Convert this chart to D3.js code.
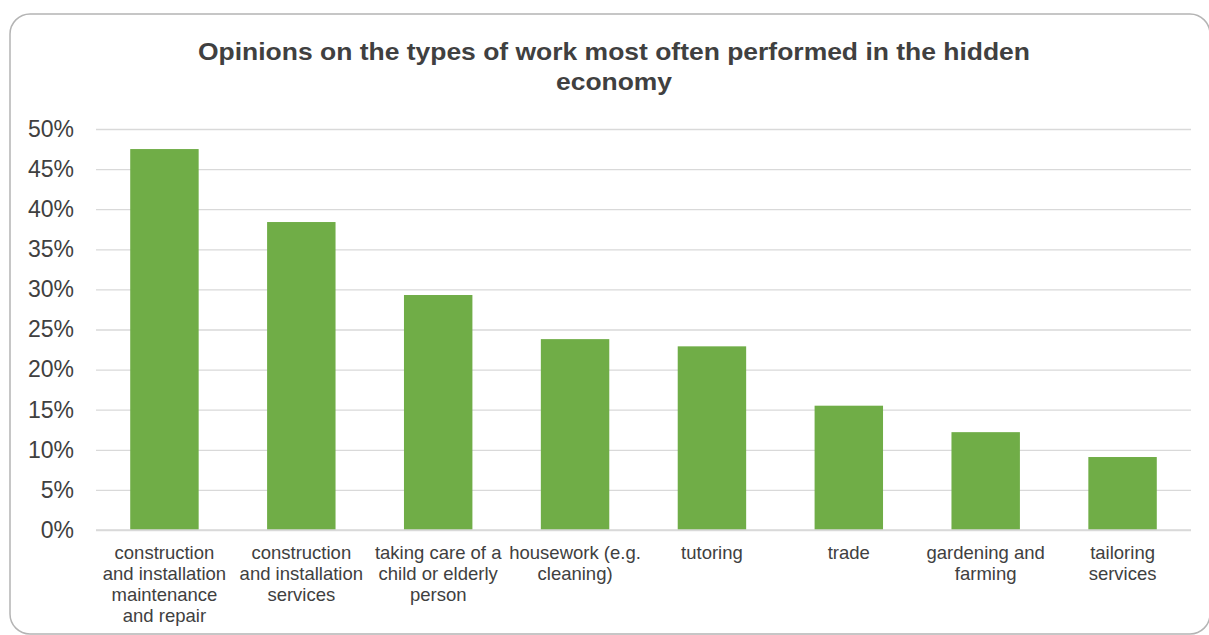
<!DOCTYPE html>
<html>
<head>
<meta charset="utf-8">
<script src="https://cdn.jsdelivr.net/npm/d3@7"></script>
<style>
  html, body { margin: 0; padding: 0; background: #ffffff; }
  svg { display: block; font-family: "Liberation Sans", Arial, sans-serif; }
</style>
</head>
<body>
<svg id="chart" width="1209" height="635"></svg>
<script>
const categories = [
  "construction and installation maintenance and repair",
  "construction and installation services",
  "taking care of a child or elderly person",
  "housework (e.g. cleaning)",
  "tutoring",
  "trade",
  "gardening and farming",
  "tailoring services"
];
const categoryLines = [
  ["construction", "and installation", "maintenance", "and repair"],
  ["construction", "and installation", "services"],
  ["taking care of a", "child or elderly", "person"],
  ["housework (e.g.", "cleaning)"],
  ["tutoring"],
  ["trade"],
  ["gardening and", "farming"],
  ["tailoring", "services"]
];
const values = [0.475, 0.384, 0.293, 0.238, 0.229, 0.155, 0.122, 0.091];
const yTicks = [0, 0.05, 0.10, 0.15, 0.20, 0.25, 0.30, 0.35, 0.40, 0.45, 0.50];
const titleLines = ["Opinions on the types of work most often performed in the hidden", "economy"];

const svg = d3.select("#chart");

// outer rounded frame
svg.append("rect")
  .attr("x", 10).attr("y", 14)
  .attr("width", 1200).attr("height", 620)
  .attr("rx", 20).attr("ry", 20)
  .attr("fill", "#ffffff")
  .attr("stroke", "#b4b4b4")
  .attr("stroke-width", 1.5);

const plotLeft = 96, plotRight = 1191, plotTop = 129, plotBottom = 530;

const x = d3.scaleBand().domain(categories).range([plotLeft, plotRight]).paddingInner(0.5).paddingOuter(0.25);
const y = d3.scaleLinear().domain([0, 0.5]).range([plotBottom, plotTop]);

// gridlines + y labels
const yAxis = d3.axisLeft(y).tickValues(yTicks).tickSize(-(plotRight - plotLeft)).tickFormat(d3.format(".0%")).tickPadding(22);
const gy = svg.append("g").attr("transform", `translate(${plotLeft},0)`).call(yAxis);
gy.select(".domain").remove();
gy.selectAll(".tick line").attr("stroke", "#d9d9d9").attr("stroke-width", 1.3);
gy.selectAll(".tick text")
  .attr("fill", "#404040")
  .style("font-size", "23px")
  .attr("x", -22);

// bars
svg.append("g").selectAll("rect")
  .data(categories)
  .join("rect")
  .attr("x", d => x(d))
  .attr("width", x.bandwidth())
  .attr("y", (d, i) => y(values[i]))
  .attr("height", (d, i) => y(0) - y(values[i]))
  .attr("fill", "#70ad47");

// baseline
svg.append("line")
  .attr("x1", plotLeft).attr("x2", plotRight)
  .attr("y1", y(0)).attr("y2", y(0))
  .attr("stroke", "#d9d9d9").attr("stroke-width", 1.5);

// category labels
const xAxis = d3.axisBottom(x).tickSize(0).tickFormat("");
const gx = svg.append("g").attr("transform", `translate(0,${plotBottom})`).call(xAxis);
gx.select(".domain").remove();
gx.selectAll(".tick").each(function(d, i) {
  const t = d3.select(this).append("text")
    .attr("text-anchor", "middle")
    .attr("fill", "#404040")
    .style("font-size", "18.5px");
  categoryLines[i].forEach((line, j) => {
    t.append("tspan").attr("x", 0).attr("y", 29 + j * 21).text(line);
  });
});

// title
const titleWidths = [832, 116];
titleLines.forEach((line, i) => {
  svg.append("text")
    .attr("x", 614)
    .attr("y", 60 + i * 30)
    .attr("text-anchor", "middle")
    .attr("fill", "#404040")
    .style("font-size", "24px")
    .style("font-weight", "bold")
    .attr("textLength", titleWidths[i])
    .attr("lengthAdjust", "spacingAndGlyphs")
    .text(line);
});
</script>
</body>
</html>
